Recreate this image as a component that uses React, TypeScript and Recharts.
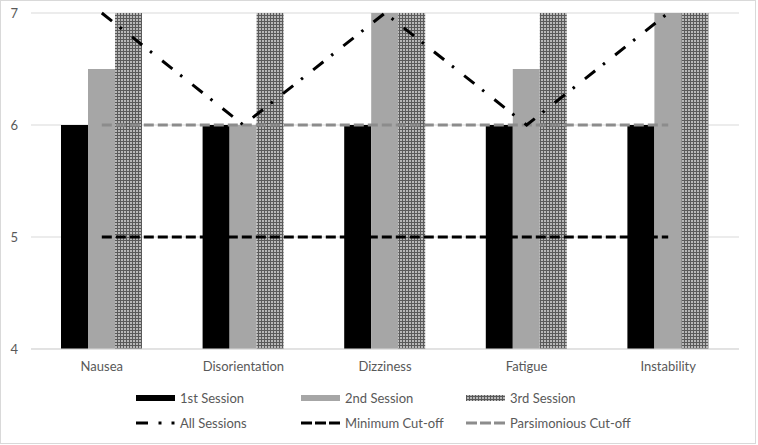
import { ComposedChart, Bar, Line, XAxis, YAxis, CartesianGrid } from 'recharts';

document.body.style.margin = '0';

const symptoms = ['Nausea', 'Disorientation', 'Dizziness', 'Fatigue', 'Instability'];
const firstSession = [6, 6, 6, 6, 6];
const secondSession = [6.5, 6, 7, 6.5, 7];
const thirdSession = [7, 7, 7, 7, 7];
const allSessions = [7, 6, 7, 6, 7];
const minimumCutoff = [5, 5, 5, 5, 5];
const parsimoniousCutoff = [6, 6, 6, 6, 6];
const yTicks = [4, 5, 6, 7];

const data = symptoms.map((name, i) => ({
  name,
  first: firstSession[i],
  second: secondSession[i],
  third: thirdSession[i],
  all: allSessions[i],
  min: minimumCutoff[i],
  pars: parsimoniousCutoff[i],
}));

const FONT = 'Lato, "Open Sans", sans-serif';
const TEXT = '#595959';
const FS = 13;

function Hatch({ id }: { id: string }) {
  return (
    <pattern id={id} width={3} height={3} patternUnits="userSpaceOnUse">
      <rect width={3} height={3} fill="#b8b8b8" />
      <path d="M0 0.5H3M0.5 0V3" stroke="#5a5a5a" strokeWidth={1} />
    </pattern>
  );
}

function LegendRow({ top, items }: { top: number; items: { left: number; icon: JSX.Element; label: string }[] }) {
  return (
    <>
      {items.map((it) => (
        <div
          key={it.label}
          style={{ position: 'absolute', top, left: it.left, display: 'flex', alignItems: 'center', height: 14 }}
        >
          <svg width={39} height={10} style={{ marginRight: 5 }}>
            <defs>
              <Hatch id="hatch-legend" />
            </defs>
            {it.icon}
          </svg>
          <span style={{ fontFamily: FONT, fontSize: FS, color: TEXT, whiteSpace: 'nowrap' }}>{it.label}</span>
        </div>
      ))}
    </>
  );
}

export default function App() {
  return (
    <div
      style={{
        position: 'relative',
        width: 754,
        height: 442,
        border: '1px solid #d9d9d9',
        background: '#fff',
      }}
    >
      <div style={{ position: 'absolute', left: -1, top: -1 }}>
        <ComposedChart
          width={758}
          height={445}
          data={data}
          barGap={0}
          margin={{ top: 13, right: 19, left: 0, bottom: 70 }}
        >
          <defs>
            <Hatch id="hatch-chart" />
          </defs>
          <CartesianGrid vertical={false} stroke="#d9d9d9" strokeWidth={1} />
          <XAxis
            dataKey="name"
            tickLine={false}
            axisLine={{ stroke: '#d9d9d9' }}
            tick={{ fill: TEXT, fontSize: FS, fontFamily: FONT }}
            tickMargin={7}
            height={26}
          />
          <YAxis
            domain={[4, 7]}
            ticks={yTicks}
            axisLine={false}
            tickLine={false}
            width={31}
            tickMargin={7}
            tick={{ fill: TEXT, fontSize: FS, fontFamily: FONT }}
          />
          <Bar dataKey="first" barSize={27} fill="#000000" isAnimationActive={false} />
          <Bar dataKey="second" barSize={27} fill="#a6a6a6" isAnimationActive={false} />
          <Bar dataKey="third" barSize={27} fill="url(#hatch-chart)" isAnimationActive={false} />
          <Line
            dataKey="pars"
            stroke="#8c8c8c"
            strokeWidth={3}
            strokeDasharray="10 4"
            dot={false}
            activeDot={false}
            isAnimationActive={false}
          />
          <Line
            dataKey="min"
            stroke="#000000"
            strokeWidth={3}
            strokeDasharray="10 4"
            dot={false}
            activeDot={false}
            isAnimationActive={false}
          />
          <Line
            dataKey="all"
            type="linear"
            stroke="#000000"
            strokeWidth={3}
            strokeDasharray="13 10 2.5 13"
            dot={false}
            activeDot={false}
            isAnimationActive={false}
          />
        </ComposedChart>
      </div>
      <LegendRow
        top={390}
        items={[
          { left: 135, label: '1st Session', icon: <rect x={0} y={2} width={39} height={6} fill="#000" /> },
          { left: 300, label: '2nd Session', icon: <rect x={0} y={2} width={39} height={6} fill="#a6a6a6" /> },
          { left: 465, label: '3rd Session', icon: <rect x={0} y={2} width={39} height={6} fill="url(#hatch-legend)" /> },
        ]}
      />
      <LegendRow
        top={415}
        items={[
          {
            left: 135,
            label: 'All Sessions',
            icon: (
              <g stroke="#000" strokeWidth={3}>
                <line x1={0} y1={5} x2={12} y2={5} />
                <line x1={22.5} y1={5} x2={25.5} y2={5} />
                <line x1={35.5} y1={5} x2={38.5} y2={5} />
              </g>
            ),
          },
          {
            left: 300,
            label: 'Minimum Cut-off',
            icon: <line x1={0} y1={5} x2={39} y2={5} stroke="#000" strokeWidth={3} strokeDasharray="11 3" />,
          },
          {
            left: 465,
            label: 'Parsimonious Cut-off',
            icon: <line x1={0} y1={5} x2={39} y2={5} stroke="#8c8c8c" strokeWidth={3} strokeDasharray="11 3" />,
          },
        ]}
      />
    </div>
  );
}
